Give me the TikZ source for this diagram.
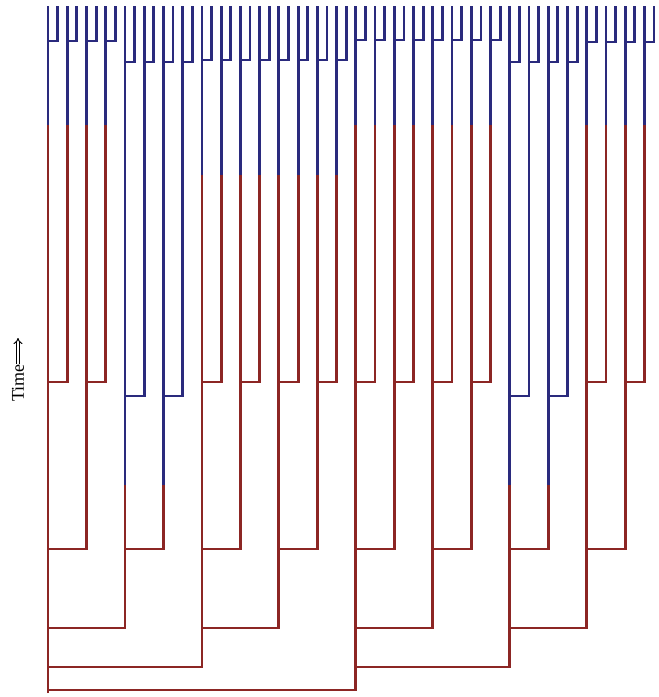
\documentclass[tikz,border=0pt]{standalone}
\usepackage{fontspec}
\setmainfont{Liberation Serif}
\usetikzlibrary{arrows.meta}

\definecolor{earlyblue}{RGB}{42,42,125}
\definecolor{laterred}{RGB}{140,38,36}

% heights per group of eight leaves: colour switch, 2nd and 1st division
\def\switchat{{125,485,175,175,125,125,485,125}}
\def\splitfive{{382,396,382,382,382,382,396,382}}
\def\splitsix{{41,62,60,60,40,40,62,42}}

% lineage #1 splits off lineage #2 at height #3
\newcommand{\splitoff}[3]{%
  \pgfmathsetmacro\xb{48+9.62*#1}%
  \pgfmathtruncatemacro\grp{#1/8}%
  \pgfmathsetmacro\sw{\switchat[\grp]}%
  \coordinate (b-#1) at (\xb,#3);%
  \ifdim #3pt>\sw pt
    \draw[redpart] (top-#2 |- b-#1) -- (b-#1) -- (t-#1);
    \draw[bluepart] (t-#1) -- (top-#1);
  \else
    \draw[bluepart] (top-#2 |- b-#1) -- (b-#1) -- (top-#1);
  \fi
}

\begin{document}
\begin{tikzpicture}[x=1pt, y=-1pt,
    lin/.style={line width=2.8pt, line join=miter},
    bluepart/.style={lin, draw=earlyblue},
    redpart/.style={lin, draw=laterred}]
  \useasboundingbox (0,0) rectangle (659,697);

  % leaf tops and colour switch points
  \foreach \k in {0,...,63} {
    \pgfmathsetmacro\xk{48+9.62*\k}
    \pgfmathtruncatemacro\grp{\k/8}
    \pgfmathsetmacro\sw{\switchat[\grp]}
    \coordinate (top-\k) at (\xk,6);
    \coordinate (t-\k) at (\xk,\sw);
  }

  % founder lineage
  \coordinate (b-0) at (48,693);
  \draw[redpart] (b-0) -- (t-0);
  \draw[bluepart] (t-0) -- (top-0);

  % divisions, oldest first
  \splitoff{32}{0}{690}
  \splitoff{16}{0}{667}
  \splitoff{48}{32}{667}
  \foreach \k in {8,24,40,56} {
    \pgfmathtruncatemacro\p{\k-8}
    \splitoff{\k}{\p}{628}
  }
  \foreach \k in {4,12,...,60} {
    \pgfmathtruncatemacro\p{\k-4}
    \splitoff{\k}{\p}{549}
  }
  \foreach \k in {2,6,...,62} {
    \pgfmathtruncatemacro\p{\k-2}
    \pgfmathtruncatemacro\g{\k/8}
    \pgfmathsetmacro\yb{\splitfive[\g]}
    \splitoff{\k}{\p}{\yb}
  }
  \foreach \k in {1,3,...,63} {
    \pgfmathtruncatemacro\p{\k-1}
    \pgfmathtruncatemacro\g{\k/8}
    \pgfmathsetmacro\yb{\splitsix[\g]}
    \splitoff{\k}{\p}{\yb}
  }

  % time axis
  \node (time) [rotate=90, font=\fontsize{18}{20}\selectfont, inner sep=0.5pt] at (18,383) {Time};
  \coordinate (timetip) at (18,338);
  \draw[double, double distance=2pt, line width=1pt, -{Implies}] (time.east) -- (timetip);
\end{tikzpicture}
\end{document}
